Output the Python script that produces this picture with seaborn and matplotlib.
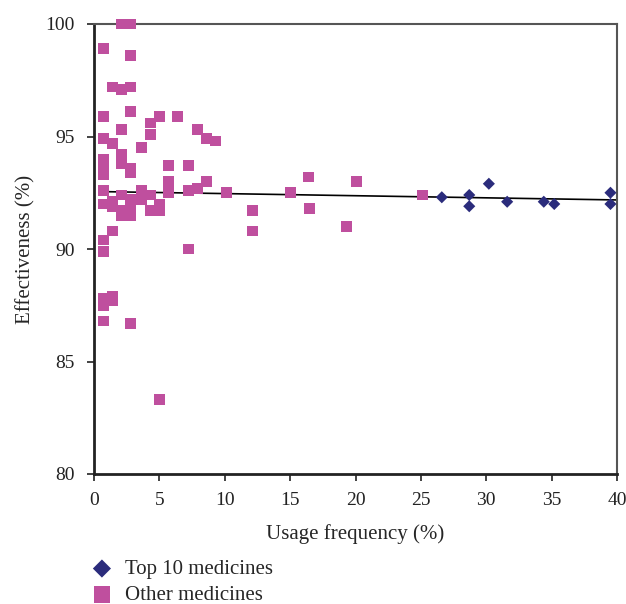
import numpy as np
import pandas as pd
import matplotlib
matplotlib.use("Agg")
import matplotlib.pyplot as plt
import seaborn as sns

# Data
other_x = [0.7]*13 + [1.4]*7 + [2.1]*8 + [2.8]*10 + [3.6]*3 + [4.3]*4 + [5.0]*4 + \
          [5.7]*3 + [6.4] + [7.2]*3 + [7.9]*2 + [8.6]*2 + [9.3] + [10.1] + [12.1]*2 + \
          [15.0, 16.4, 16.5, 19.3, 20.1, 25.1]
other_y = [98.9, 95.9, 94.9, 94.0, 93.6, 93.3, 92.6, 92.0, 90.4, 89.9, 87.8, 87.5, 86.8,
           97.2, 94.7, 92.1, 91.9, 90.8, 87.9, 87.7,
           100.0, 97.1, 95.3, 94.2, 93.8, 92.4, 91.7, 91.5,
           100.0, 98.6, 97.2, 96.1, 93.6, 93.4, 92.2, 91.7, 91.5, 86.7,
           94.5, 92.6, 92.2,
           95.6, 95.1, 92.4, 91.7,
           95.9, 92.0, 91.7, 83.3,
           93.7, 93.0, 92.5,
           95.9,
           93.7, 92.6, 90.0,
           95.3, 92.7,
           94.9, 93.0,
           94.8,
           92.5,
           91.7, 90.8,
           92.5, 93.2, 91.8, 91.0, 93.0, 92.4]
top_x = [26.6, 28.7, 28.7, 30.2, 31.6, 34.4, 35.2, 39.5, 39.5]
top_y = [92.3, 92.4, 91.9, 92.9, 92.1, 92.1, 92.0, 92.5, 92.0]

# trend line
trend_x = [0.7, 40.0]
trend_y = [92.55, 92.18]

x_ticks = [0, 5, 10, 15, 20, 25, 30, 35, 40]
y_ticks = [80, 85, 90, 95, 100]
labels = ["Top 10 medicines", "Other medicines"]

df = pd.DataFrame({
    "x": top_x + other_x,
    "y": top_y + other_y,
    "group": [labels[0]] * len(top_x) + [labels[1]] * len(other_x),
})
trend = pd.DataFrame({"x": trend_x, "y": trend_y})

sns.set_style("ticks")
plt.rcParams["font.family"] = ["Liberation Serif", "DejaVu Serif"]

fig = plt.figure(figsize=(6.26, 6.04), dpi=100)
ax = fig.add_axes([94/626, 1 - 474/604, (617-94)/626, (474-24)/604])

pal = {labels[0]: "#2B2C7C", labels[1]: "#BF4F9E"}
sns.lineplot(data=trend, x="x", y="y", color="black", lw=1.2, ax=ax, zorder=2)
sns.scatterplot(data=df[df.group == labels[1]], x="x", y="y", color=pal[labels[1]],
                marker="s", s=62, edgecolor="none", ax=ax, label=labels[1], clip_on=False, zorder=3)
sns.scatterplot(data=df[df.group == labels[0]], x="x", y="y", color=pal[labels[0]],
                marker="D", s=38, edgecolor="none", ax=ax, label=labels[0], clip_on=False, zorder=4)

ax.set_xlim(0, 40)
ax.set_ylim(80, 100)
ax.set_xticks(x_ticks)
ax.set_yticks(y_ticks)
ax.tick_params(direction="out", length=5, width=1.2, labelsize=14, colors="#222222")
ax.tick_params(axis="y", pad=9)
ax.tick_params(axis="x", pad=8)
for s in ["left", "bottom"]:
    ax.spines[s].set_linewidth(2)
    ax.spines[s].set_color("#222222")
for s in ["top", "right"]:
    ax.spines[s].set_linewidth(1.5)
    ax.spines[s].set_color("#555555")
ax.set_xlabel("Usage frequency (%)", fontsize=15, labelpad=11)
ax.set_ylabel("Effectiveness (%)", fontsize=15, labelpad=7)

h, l = ax.get_legend_handles_labels()
ax.get_legend().remove()
order = [l.index(labels[0]), l.index(labels[1])]
fig.legend([h[i] for i in order], [l[i] for i in order], loc="upper left",
           bbox_to_anchor=(79/626, 1 - 549/604), frameon=False, fontsize=15,
           handletextpad=0.5, labelspacing=0.3, borderpad=0, handlelength=1.2,
           markerscale=1.5)

fig.savefig("out.png", dpi=100)
